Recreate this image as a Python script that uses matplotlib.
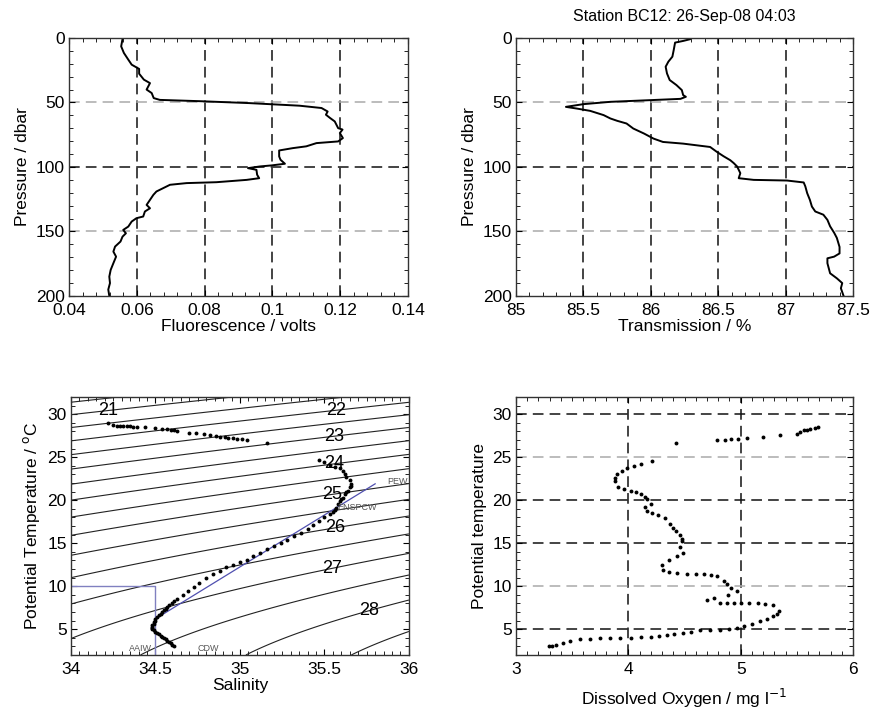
import numpy as np
import matplotlib
matplotlib.use("Agg")
import matplotlib.pyplot as plt
from matplotlib.ticker import MultipleLocator

plt.rcParams['font.family'] = ['Liberation Sans', 'DejaVu Sans']

### data
# fluorescence profile (pressure in dbar, fluorescence in volts)
fl_pres = [0.8, 6.5, 11.6, 16.8, 20.7, 24, 27.7, 32.3, 35, 40, 42.7, 46.6, 48, 49, 50.5,
           52.5, 54.3, 57, 59.5, 62, 64.7, 69.9, 71, 73.7, 77.6, 80.2, 81.5, 84, 85.4, 87.2,
           91.8, 94.4, 97.5, 98.8, 99.6, 100.9, 102.2, 106, 108.7, 110, 111.8, 112.5, 113.8,
           116.4, 119, 121.6, 125.5, 129.4, 132, 134.5, 138.4, 139.7, 142.3, 146.2, 148.8,
           151.4, 154, 157.8, 161.7, 165.6, 169.5, 174.6, 179.8, 185, 190, 195, 200]
fl_volts = [0.0558, 0.0554, 0.0562, 0.0575, 0.0585, 0.0607, 0.0607, 0.0621, 0.0639, 0.0629,
            0.0644, 0.0650, 0.0668, 0.0786, 0.0933, 0.108, 0.1145, 0.1163, 0.1158, 0.117,
            0.1184, 0.1194, 0.1207, 0.1199, 0.1208, 0.1194, 0.113, 0.110, 0.106, 0.102,
            0.102, 0.1024, 0.1037, 0.0997, 0.0963, 0.0928, 0.0953, 0.0955, 0.0961, 0.0924,
            0.0835, 0.0747, 0.0698, 0.0678, 0.0658, 0.0649, 0.0639, 0.0629, 0.0639, 0.0624,
            0.0619, 0.0599, 0.0585, 0.0575, 0.0560, 0.0568, 0.0558, 0.0552, 0.0536, 0.0531,
            0.0539, 0.0531, 0.0523, 0.0519, 0.0521, 0.0516, 0.0519]

# transmission profile (pressure in dbar, transmission in %)
tr_pres = [1, 2.3, 3.6, 9.3, 14.5, 18.4, 22.3, 27.5, 32.6, 36.5, 40.4, 44.3, 45.6, 47.2,
           48.2, 49.5, 51.3, 53.4, 54.7, 56.5, 59.8, 62.4, 64.2, 66.3, 70.2, 74.1, 78, 80.6,
           81.9, 84.5, 88.3, 91.7, 94.8, 97, 99.6, 102.2, 104.8, 108.7, 110, 110.5, 112, 115,
           120.3, 125.5, 130.7, 134.5, 137, 141, 146, 151, 155, 162, 167, 169.5, 170.8, 174.6,
           178.5, 182.4, 186.3, 190, 194, 200]
tr_pct = [86.29, 86.24, 86.18, 86.17, 86.16, 86.13, 86.11, 86.12, 86.14, 86.19, 86.23, 86.24,
          86.26, 86.22, 85.995, 85.70, 85.50, 85.37, 85.45, 85.55, 85.65, 85.70, 85.75, 85.82,
          85.87, 85.95, 86.02, 86.09, 86.24, 86.44, 86.49, 86.54, 86.59, 86.615, 86.64, 86.652,
          86.664, 86.652, 86.763, 87.01, 87.134, 87.146, 87.16, 87.18, 87.195, 87.22, 87.28,
          87.31, 87.33, 87.36, 87.38, 87.40, 87.40, 87.36, 87.31, 87.31, 87.32, 87.33, 87.38,
          87.42, 87.41, 87.43]

# T-S samples
ts_sal = [34.22, 34.25, 34.27, 34.29, 34.31, 34.33, 34.35, 34.37, 34.39, 34.44, 34.50, 34.54,
          34.57, 34.59, 34.61, 34.63, 34.70, 34.74, 34.79, 34.82, 34.86, 34.88, 34.91, 34.93,
          34.96, 34.98, 35.01, 35.04, 35.16,
          35.47, 35.50, 35.53, 35.56, 35.59, 35.61, 35.62, 35.63, 35.65, 35.66, 35.66, 35.65,
          35.64, 35.63, 35.62, 35.61, 35.60, 35.59, 35.58, 35.57, 35.56, 35.55, 35.53, 35.50,
          35.47, 35.43, 35.40, 35.36, 35.32, 35.28, 35.24, 35.20, 35.16, 35.12, 35.08, 35.04,
          35.00, 34.96, 34.92, 34.88, 34.84, 34.80, 34.76, 34.73, 34.69, 34.66, 34.63, 34.61,
          34.60, 34.58, 34.57, 34.56, 34.55, 34.54, 34.53, 34.52, 34.51, 34.50, 34.50, 34.49,
          34.49, 34.48, 34.48, 34.48, 34.48, 34.49, 34.50, 34.51, 34.52, 34.53, 34.54, 34.55,
          34.56, 34.57, 34.58, 34.59, 34.60, 34.61]
ts_temp = [28.95, 28.7, 28.6, 28.6, 28.6, 28.6, 28.6, 28.55, 28.55, 28.45, 28.35, 28.3,
           28.25, 28.2, 28.15, 28.05, 27.85, 27.8, 27.7, 27.6, 27.45, 27.35, 27.3, 27.25,
           27.2, 27.15, 27.1, 27.0, 26.7,
           24.7, 24.4, 24.1, 23.9, 23.7, 23.4, 23.0, 22.7, 22.3, 21.9, 21.7, 21.5,
           21.1, 20.9, 20.7, 20.3, 20.1, 19.9, 19.5, 19.1, 18.8, 18.6, 18.4, 18.0,
           17.6, 17.1, 16.7, 16.2, 15.8, 15.4, 15.0, 14.7, 14.3, 13.9, 13.5, 13.1,
           12.8, 12.5, 12.2, 11.8, 11.4, 10.9, 10.4, 9.9, 9.4, 9.0, 8.5, 8.3,
           8.0, 7.8, 7.6, 7.4, 7.2, 7.0, 6.8, 6.6, 6.4, 6.2, 6.0, 5.8,
           5.6, 5.45, 5.3, 5.15, 5.0, 4.85, 4.7, 4.55, 4.4, 4.25, 4.1, 3.95,
           3.8, 3.65, 3.5, 3.35, 3.2, 3.0]

# oxygen vs potential temperature samples
ox_mgl = [5.69, 5.66, 5.62, 5.59, 5.56, 5.53, 5.50, 5.35, 5.20, 5.06, 4.98, 4.91, 4.86, 4.79,
          4.42, 4.21, 4.11, 4.05, 3.99, 3.94, 3.90, 3.88, 3.88, 3.91, 3.96, 4.02, 4.07, 4.11,
          4.15, 4.17, 4.20, 4.15, 4.17, 4.21, 4.26, 4.33, 4.37, 4.40, 4.42, 4.46, 4.48, 4.48,
          4.46, 4.49, 4.43, 4.36, 4.30, 4.31, 4.36, 4.43, 4.52, 4.60, 4.67, 4.74, 4.79, 4.85,
          4.88, 4.91, 4.97, 4.89, 4.70, 4.76, 4.82, 4.88, 4.94, 5.00, 5.07, 5.15, 5.22, 5.29,
          5.34, 5.32, 5.29, 5.23, 5.17, 5.10, 5.03, 4.97, 4.90, 4.82, 4.73, 4.64, 4.56, 4.49,
          4.41, 4.34, 4.27, 4.20, 4.11, 4.02, 3.93, 3.84, 3.75, 3.66, 3.57, 3.48, 3.42, 3.36,
          3.32, 3.29]
ox_temp = [28.52, 28.4, 28.3, 28.2, 28.1, 27.9, 27.7, 27.6, 27.3, 27.2, 27.15, 27.1, 27.05,
           27.0, 26.6, 24.5, 24.25, 24.0, 23.7, 23.35, 23.0, 22.6, 22.2, 21.5, 21.3, 21.1,
           20.9, 20.7, 20.4, 20.1, 19.5, 19.2, 18.7, 18.5, 18.3, 17.95, 17.2, 16.8, 16.4,
           15.9, 15.5, 15.2, 14.6, 13.9, 13.5, 13.1, 12.5, 11.9, 11.6, 11.5, 11.45, 11.45, 11.4,
           11.3, 11.15, 10.6, 10.2, 9.8, 9.4, 9.0, 8.4, 8.6, 8.0, 8.0, 8.0, 8.0, 8.0, 8.0,
           7.95, 7.85, 7.1, 6.8, 6.5, 6.2, 5.95, 5.65, 5.35, 5.1, 5.0, 4.95, 4.9, 4.9, 4.7,
           4.5, 4.4, 4.3, 4.2, 4.1, 4.05, 4.0, 3.98, 3.95, 3.93, 3.9, 3.8, 3.6, 3.45, 3.2,
           3.1, 3.0]

# density contour levels and where their labels sit
sig_half_levels = [20.5, 21.5, 22.5, 23.5, 24.5, 25.5, 26.5, 27.5, 28.5]
sig_int_levels = [21, 22, 23, 24, 25, 26, 27, 28, 29]
sig_lab_s = [34.22, 35.57, 35.56, 35.56, 35.55, 35.57, 35.55, 35.77]
sig_lab_t = [30.1, 30.1, 27.1, 23.7, 20.3, 16.2, 11.8, 6.8]

# water mass labels
wm_names = ["AAIW", "CDW", "PEW", "ENSPCW"]
wm_s = [34.41, 34.81, 35.93, 35.69]
wm_t = [2.7, 2.7, 22.2, 19.1]
spcw_s = [34.5, 35.8]
spcw_t = [6.2, 21.9]
aaiw_box_s = [34.0, 34.5, 34.5]
aaiw_box_t = [10.0, 10.0, 2.0]


def sigma0(S, T):
    # UNESCO 1983 density at surface pressure, minus 1000
    rw = (999.842594 + 6.793952e-2 * T - 9.095290e-3 * T**2 + 1.001685e-4 * T**3
          - 1.120083e-6 * T**4 + 6.536332e-9 * T**5)
    A = 8.24493e-1 - 4.0899e-3 * T + 7.6438e-5 * T**2 - 8.2467e-7 * T**3 + 5.3875e-9 * T**4
    B = -5.72466e-3 + 1.0227e-4 * T - 1.6546e-6 * T**2
    C = 4.8314e-4
    return rw + A * S + B * S**1.5 + C * S**2 - 1000.0


dash = (0, (7, 4))
DARK = "#111111"
LIGHT = "#aaaaaa"


def style(ax):
    ax.tick_params(which='both', direction='in', top=True, right=True, labelsize=12.5)
    ax.tick_params(which='major', length=4)
    ax.tick_params(which='minor', length=3)
    ax.tick_params(axis='x', which='major', pad=5)
    ax.tick_params(axis='y', which='major', pad=3)
    for s in ax.spines.values():
        s.set_linewidth(1.0)
        s.set_color("#333333")


def grid(ax, xs, xc, ys, yc):
    for v, c in zip(xs, xc):
        ax.axvline(v, color=c, ls=dash, lw=1.1, zorder=0)
    for v, c in zip(ys, yc):
        ax.axhline(v, color=c, ls=dash, lw=1.1, zorder=0)


fig = plt.figure(figsize=(8.74, 7.11), dpi=100)
ax1 = fig.add_axes([0.0789, 0.5837, 0.3879, 0.3629])
ax2 = fig.add_axes([0.5904, 0.5837, 0.3856, 0.3629])
ax3 = fig.add_axes([0.0812, 0.0788, 0.3867, 0.3629])
ax4 = fig.add_axes([0.5904, 0.0788, 0.3856, 0.3629])

### fluorescence
ax1.plot(fl_volts, fl_pres, color="k", lw=1.4)
ax1.set_xlim(0.04, 0.14)
ax1.set_ylim(200, 0)
ax1.set_xticks([0.04, 0.06, 0.08, 0.1, 0.12, 0.14], ["0.04", "0.06", "0.08", "0.1", "0.12", "0.14"])
ax1.xaxis.set_minor_locator(MultipleLocator(0.004))
ax1.yaxis.set_major_locator(MultipleLocator(50))
ax1.yaxis.set_minor_locator(MultipleLocator(10))
grid(ax1, [0.06, 0.08, 0.1, 0.12], [DARK] * 4, [50, 100, 150], [LIGHT, DARK, LIGHT])
ax1.set_xlabel("Fluorescence / volts", fontsize=12.5, labelpad=1)
ax1.set_ylabel("Pressure / dbar", fontsize=12.5, labelpad=4)
style(ax1)

### transmission
ax2.plot(tr_pct, tr_pres, color="k", lw=1.4)
ax2.set_xlim(85, 87.5)
ax2.set_ylim(200, 0)
ax2.set_xticks([85, 85.5, 86, 86.5, 87, 87.5], ["85", "85.5", "86", "86.5", "87", "87.5"])
ax2.xaxis.set_minor_locator(MultipleLocator(0.1))
ax2.yaxis.set_major_locator(MultipleLocator(50))
ax2.yaxis.set_minor_locator(MultipleLocator(10))
grid(ax2, [85.5, 86, 86.5, 87], [DARK] * 4, [50, 100, 150], [LIGHT, DARK, LIGHT])
ax2.set_xlabel("Transmission / %", fontsize=12.5, labelpad=1)
ax2.set_ylabel("Pressure / dbar", fontsize=12.5, labelpad=4)
ax2.set_title("Station BC12: 26-Sep-08 04:03", fontsize=11.5, pad=12)
style(ax2)

### T-S diagram
sg, tg = np.meshgrid(np.linspace(34, 36, 200), np.linspace(2, 32, 300))
sig = sigma0(sg, tg)
ax3.contour(sg, tg, sig, levels=sig_half_levels, colors="#222222", linewidths=0.8)
cs = ax3.contour(sg, tg, sig, levels=sig_int_levels, colors="#222222", linewidths=0.8)
labs = ax3.clabel(cs, manual=list(zip(sig_lab_s, sig_lab_t)), inline=False,
                  fmt="%d", fontsize=13, colors="k")
for t in labs:
    t.set_rotation(0)
ax3.plot(aaiw_box_s, aaiw_box_t, color="#8080c0", lw=1.0)
ax3.plot(spcw_s, spcw_t, color="#5050b0", lw=0.9)
for n, s, t in zip(wm_names, wm_s, wm_t):
    ax3.text(s, t, n, fontsize=6.5, ha="center", va="center", color="#555555")
ax3.plot(ts_sal, ts_temp, ls="none", marker="o", ms=2.8, color="k", mec="none")
ax3.set_xlim(34, 36)
ax3.set_ylim(2, 32)
ax3.set_xticks([34, 34.5, 35, 35.5, 36], ["34", "34.5", "35", "35.5", "36"])
ax3.xaxis.set_minor_locator(MultipleLocator(0.05))
ax3.set_yticks([5, 10, 15, 20, 25, 30])
ax3.yaxis.set_minor_locator(MultipleLocator(1))
ax3.set_xlabel("Salinity", fontsize=12.5, labelpad=1)
ax3.set_ylabel("Potential Temperature / $^{\\mathrm{o}}$C", fontsize=12.5, labelpad=4)
style(ax3)

### oxygen
ax4.plot(ox_mgl, ox_temp, ls="none", marker="o", ms=2.8, color="k", mec="none")
ax4.set_xlim(3, 6)
ax4.set_ylim(2, 32)
ax4.set_xticks([3, 4, 5, 6])
ax4.xaxis.set_minor_locator(MultipleLocator(0.1))
ax4.set_yticks([5, 10, 15, 20, 25, 30])
ax4.yaxis.set_minor_locator(MultipleLocator(1))
grid(ax4, [4, 5], [DARK, DARK], [30, 25, 20, 15, 10, 5], [DARK, LIGHT, DARK, DARK, LIGHT, DARK])
ax4.set_xlabel("Dissolved Oxygen / mg l$^{-1}$", fontsize=12.5, labelpad=7)
ax4.set_ylabel("Potential temperature", fontsize=12.5, labelpad=4)
style(ax4)

plt.savefig("out.png", dpi=100)
